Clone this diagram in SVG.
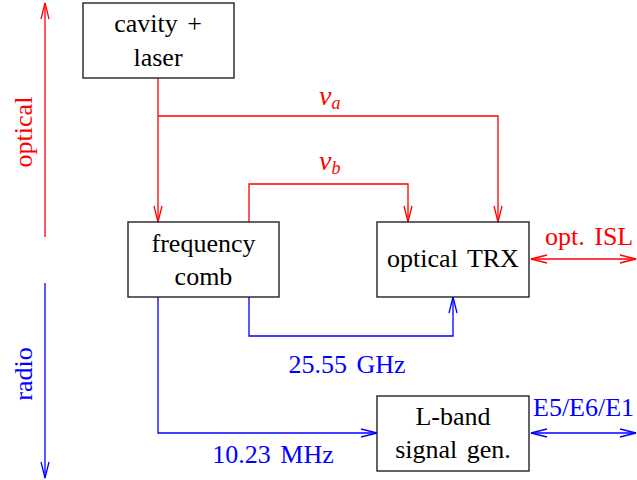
<svg xmlns="http://www.w3.org/2000/svg" width="637" height="480" viewBox="0 0 637 480">
<style>
.box{fill:#fff;stroke:#222;stroke-width:1.4}
.t{font-family:"Liberation Serif",serif;font-size:26px;word-spacing:3px;text-anchor:middle;fill:#000}
.s{text-anchor:start}
.r{fill:#ff0000}
.b{fill:#0000ff}
.lr{fill:none;stroke:#ff0000;stroke-width:1.3}
.lb{fill:none;stroke:#0000ff;stroke-width:1.3}
</style>
<defs>
<marker id="ar" markerUnits="userSpaceOnUse" markerWidth="20" markerHeight="12" viewBox="-17 -6 20 12" refX="0" refY="0" orient="auto-start-reverse">
<path d="M-16,-4 L0,0 L-16,4" fill="none" stroke="#ff0000" stroke-width="1.3"/>
</marker>
<marker id="ab" markerUnits="userSpaceOnUse" markerWidth="20" markerHeight="12" viewBox="-17 -6 20 12" refX="0" refY="0" orient="auto-start-reverse">
<path d="M-16,-4 L0,0 L-16,4" fill="none" stroke="#0000ff" stroke-width="1.3"/>
</marker>
</defs>
<g id="connectors">
<path class="lr" d="M45,237 V3" marker-end="url(#ar)"/>
<path class="lb" d="M45,283 V478" marker-end="url(#ab)"/>
<path class="lr" d="M158,78 V222" marker-end="url(#ar)"/>
<path class="lr" d="M158,116 H498 V222" marker-end="url(#ar)"/>
<path class="lr" d="M249,222 V184 H408 V222" marker-end="url(#ar)"/>
<path class="lb" d="M249,297 V336 H453 V297" marker-end="url(#ab)"/>
<path class="lb" d="M158,297 V433 H377" marker-end="url(#ab)"/>
<path class="lr" d="M531,259 H636" marker-start="url(#ar)" marker-end="url(#ar)"/>
<path class="lb" d="M531,433 H636" marker-start="url(#ab)" marker-end="url(#ab)"/>
</g>
<g id="labels">
<text class="t r" transform="translate(32,132) rotate(-90)">optical</text>
<text class="t b" transform="translate(32,374) rotate(-90)">radio</text>
<text class="t r s" x="319" y="105"><tspan font-style="italic" font-size="28">ν</tspan><tspan font-style="italic" font-size="18" dy="4">a</tspan></text>
<text class="t r s" x="319" y="170"><tspan font-style="italic" font-size="28">ν</tspan><tspan font-style="italic" font-size="18" dy="4">b</tspan></text>
<text class="t b" x="347" y="373">25.55 GHz</text>
<text class="t b" x="273" y="463">10.23 MHz</text>
<text class="t r s" x="545" y="245">opt. ISL</text>
<text class="t b s" x="533" y="416">E5/E6/E1</text>
</g>
<g id="cavity">
<rect class="box" x="83" y="3" width="151" height="75"/>
<text class="t" x="158" y="32">cavity +</text>
<text class="t" x="158" y="66">laser</text>
</g>
<g id="comb">
<rect class="box" x="128" y="222" width="151" height="75"/>
<text class="t" x="203.5" y="252">frequency</text>
<text class="t" x="203.5" y="285">comb</text>
</g>
<g id="trx">
<rect class="box" x="377" y="222" width="152" height="75"/>
<text class="t" x="453" y="267">optical TRX</text>
</g>
<g id="lband">
<rect class="box" x="377" y="396" width="152" height="75"/>
<text class="t" x="453" y="425">L-band</text>
<text class="t" x="453" y="458">signal gen.</text>
</g>
</svg>
